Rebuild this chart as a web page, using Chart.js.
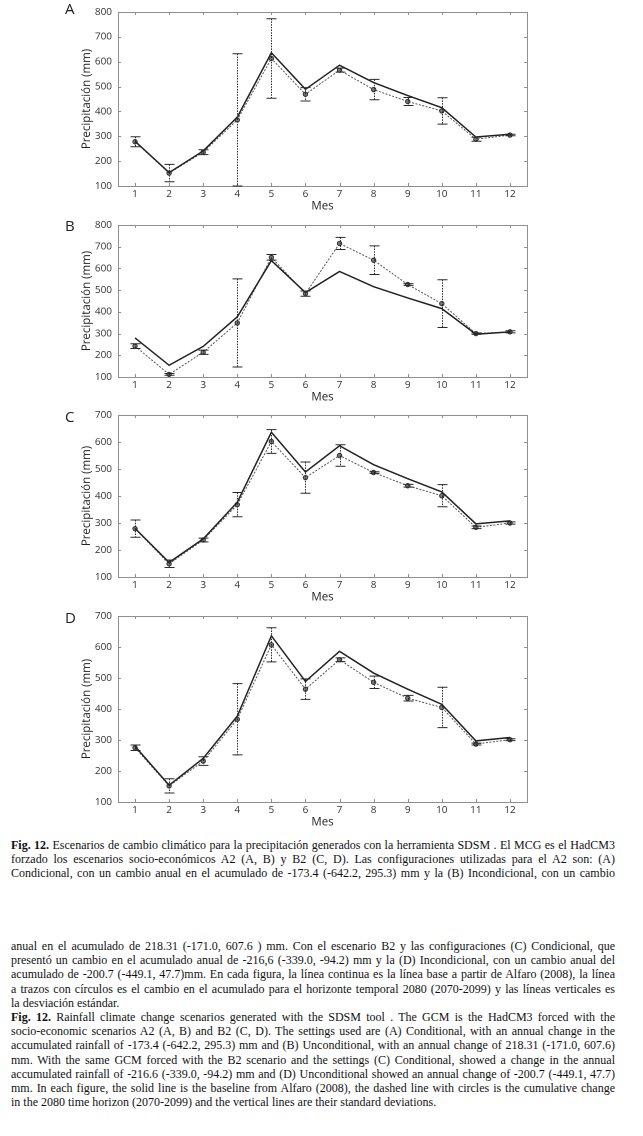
<!DOCTYPE html>
<html><head><meta charset="utf-8">
<script src="https://cdn.jsdelivr.net/npm/chart.js@4.4.1/dist/chart.umd.min.js"></script>
<style>
body{margin:0;background:#fff;width:643px;height:1136px;position:relative;overflow:hidden}
canvas{position:absolute;left:0}
.lt{position:absolute;font:15px 'Open Sans',sans-serif;color:#222}
.cap{position:absolute;left:11px;width:604px;font:12px 'Liberation Serif',serif;line-height:14.2px;color:#111}
.cap div{text-align:justify;text-align-last:justify}
.cap div.end{text-align-last:left}
</style></head><body>
<canvas id="cA"></canvas><canvas id="cB"></canvas><canvas id="cC"></canvas><canvas id="cD"></canvas>
<div class="lt" style="left:65px;top:-2px">A</div>
<div class="lt" style="left:65px;top:215px">B</div>
<div class="lt" style="left:65px;top:406px">C</div>
<div class="lt" style="left:65px;top:607px">D</div>
<div class="cap" style="top:838px">
<div><b>Fig. 12.</b> Escenarios de cambio climático para la precipitación generados con la herramienta SDSM . El MCG es el HadCM3</div>
<div>forzado los escenarios socio-económicos A2 (A, B) y B2 (C, D). Las configuraciones utilizadas para el A2 son: (A)</div>
<div>Condicional, con un cambio anual en el acumulado de -173.4 (-642.2, 295.3) mm y la (B) Incondicional, con un cambio</div>
</div>
<div class="cap" style="top:939px">
<div>anual en el acumulado de 218.31 (-171.0, 607.6 ) mm. Con el escenario B2 y las configuraciones (C) Condicional, que</div>
<div>presentó un cambio en el acumulado anual de -216,6 (-339.0, -94.2) mm y la (D) Incondicional, con un cambio anual del</div>
<div>acumulado de -200.7 (-449.1, 47.7)mm. En cada figura, la línea continua es la línea base a partir de Alfaro (2008), la línea</div>
<div>a trazos con círculos es el cambio en el acumulado para el horizonte temporal 2080 (2070-2099) y las líneas verticales es</div>
<div class="end">la desviación estándar.</div>
<div><b>Fig. 12.</b> Rainfall climate change scenarios generated with the SDSM tool . The GCM is the HadCM3 forced with the</div>
<div>socio-economic scenarios A2 (A, B) and B2 (C, D). The settings used are (A) Conditional, with an annual change in the</div>
<div>accumulated rainfall of -173.4 (-642.2, 295.3) mm and (B) Unconditional, with an annual change of 218.31 (-171.0, 607.6)</div>
<div>mm. With the same GCM forced with the B2 scenario and the settings (C) Conditional, showed a change in the annual</div>
<div>accumulated rainfall of -216.6 (-339.0, -94.2) mm and (D) Unconditional showed an annual change of -200.7 (-449.1, 47.7)</div>
<div>mm. In each figure, the solid line is the baseline from Alfaro (2008), the dashed line with circles is the cumulative change</div>
<div class="end">in the 2080 time horizon (2070-2099) and the vertical lines are their standard deviations.</div>
</div>
<script>
const months=['1','2','3','4','5','6','7','8','9','10','11','12'];
const yTicks800=[100,200,300,400,500,600,700,800];
const yTicks700=[100,200,300,400,500,600,700];
// linea base Alfaro (2008)
const baseline=[280,154,241,377,636,489,586,516,464,415,297,308];
// escenarios 2080 y desviacion estandar
const scenA=[278,152,236,366,613,469,566,488,440,402,288,305];
const sdA=[20,35,10,266,160,27,8,41,16,53,8,3];
const scenB=[242,112,214,349,651,484,715,638,526,438,300,308];
const sdB=[11,4,10,203,13,12,28,66,4,110,3,5];
const scenC=[279,149,237,368,602,468,550,487,438,401,284,300];
const sdC=[32,14,7,45,44,58,40,3,5,41,5,4];
const scenD=[275,152,232,367,607,464,559,486,435,405,287,301];
const sdD=[9,23,14,115,55,33,6,20,9,65,3,3];

const box={id:'box',beforeDatasetsDraw(chart){
  const {ctx,chartArea:a,scales:{x,y}}=chart;
  ctx.save();ctx.strokeStyle='#8f8f8f';ctx.lineWidth=1;
  ctx.strokeRect(Math.round(a.left)+.5,Math.round(a.top)+.5,Math.round(a.width),Math.round(a.height));
  ctx.beginPath();
  x.ticks.forEach((t,i)=>{const px=Math.round(x.getPixelForTick(i))+.5;ctx.moveTo(px,a.top);ctx.lineTo(px,a.top+3);ctx.moveTo(px,a.bottom);ctx.lineTo(px,a.bottom-3)});
  y.ticks.forEach((t,i)=>{const py=Math.round(y.getPixelForTick(i))+.5;ctx.moveTo(a.left,py);ctx.lineTo(a.left+3,py);ctx.moveTo(a.right,py);ctx.lineTo(a.right-3,py)});
  ctx.stroke();ctx.restore();
}};

const errBars={id:'errBars',afterDatasetsDraw(chart,args,opts){
  const {ctx,chartArea:a,scales:{x,y}}=chart;
  const v=chart.data.datasets[1].data;
  ctx.save();ctx.strokeStyle='#2a2a2a';ctx.lineWidth=1;
  opts.sd.forEach((s,i)=>{
    const px=Math.round(x.getPixelForValue(i))+.5;
    const t=Math.max(a.top,y.getPixelForValue(v[i]+s)), b=Math.min(a.bottom,y.getPixelForValue(v[i]-s));
    ctx.setLineDash([1.5,1.2]);ctx.beginPath();ctx.moveTo(px,t);ctx.lineTo(px,b);ctx.stroke();
    ctx.setLineDash([]);ctx.beginPath();ctx.moveTo(px-5,t);ctx.lineTo(px+5,t);ctx.moveTo(px-5,b);ctx.lineTo(px+5,b);ctx.stroke();
  });
  ctx.restore();
}};

function panel(id,top,height,padTop,scen,sd,yMax,yTicks){
  const c=document.getElementById(id);
  c.width=560;c.height=height;c.style.width='560px';c.style.height=height+'px';c.style.top=top+'px';
  new Chart(c,{type:'line',
    data:{labels:months,datasets:[
      {data:baseline,borderColor:'#222',borderWidth:1.5,pointRadius:0,tension:0},
      {data:scen,borderColor:'#555',borderWidth:1,borderDash:[2,1.5],pointRadius:2.2,pointBackgroundColor:'#777',pointBorderColor:'#333',pointBorderWidth:1,tension:0}
    ]},
    options:{responsive:false,animation:false,devicePixelRatio:2,
      layout:{padding:{top:padTop,right:33,left:0,bottom:0}},
      plugins:{legend:{display:false},tooltip:{enabled:false},errBars:{sd}},
      scales:{
        x:{offset:true,grid:{display:false,drawTicks:false},border:{display:false},
          ticks:{padding:2,color:'#333',font:{family:'Open Sans',size:10}},
          title:{display:true,text:'Mes',color:'#222',font:{family:'Open Sans',size:11.5},padding:{top:0,bottom:0}},
          afterFit(s){s.height=27}},
        y:{min:100,max:yMax,grid:{display:false,drawTicks:false},border:{display:false},
          afterBuildTicks(s){s.ticks=yTicks.map(v=>({value:v}))},
          ticks:{padding:6,color:'#333',font:{family:'Open Sans',size:10}},
          title:{display:true,text:'Precipitación (mm)',color:'#222',font:{family:'Open Sans',size:11.5},padding:{top:80,bottom:0}},
          afterFit(s){s.width=118}}
      }},
    plugins:[box,errBars]});
}
panel('cA',0,213,9,scenA,sdA,800,yTicks800);
panel('cB',213,191,10,scenB,sdB,800,yTicks800);
panel('cC',403,201,10,scenC,sdC,700,yTicks700);
panel('cD',604,225,10,scenD,sdD,700,yTicks700);
</script>
</body></html>
